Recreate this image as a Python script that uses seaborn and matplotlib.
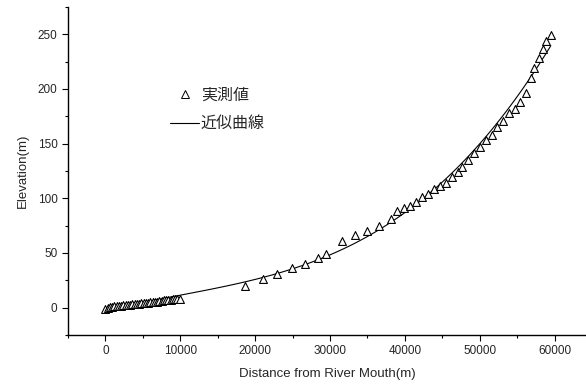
import numpy as np
import pandas as pd
import matplotlib
matplotlib.use('Agg')
import matplotlib.pyplot as plt
from matplotlib.lines import Line2D
from matplotlib.ticker import MultipleLocator
import seaborn as sns

near_x = [0, 300, 600, 900, 1200, 1500, 1800, 2100, 2400, 2700, 3000, 3300,
          3600, 3900, 4200, 4500, 4800, 5100, 5400, 5700, 6000, 6300, 6600,
          6900, 7200, 7500, 7800, 8100, 8400, 8700, 9000, 9300, 9600, 9900]
near_y = [-1, 0, 0.5, 0.5, 1, 1, 1.5, 1.5, 2, 2, 2.5, 2.5,
          3, 3, 3.5, 3.5, 4, 4, 4.5, 4.5, 5, 5, 5.5,
          5.5, 6, 6, 6.5, 6.5, 7, 7, 7.5, 7.5, 8, 8]
far_x = [18700, 21100, 22900, 24900, 26700, 28400, 29500, 31600, 33300, 34900,
         36500, 38100, 39000, 39900, 40700, 41500, 42300, 43100, 43900, 44700,
         45500, 46300, 47100, 47700, 48400, 49200, 50000, 50800, 51600, 52300,
         53100, 53900, 54700, 55400, 56200, 56800, 57300, 57900, 58400, 58900,
         59500]
far_y = [20, 26, 31, 36, 40, 45, 49, 61, 66, 70,
         75, 81, 88, 91, 93, 97, 101, 104, 108, 111,
         114, 119, 124, 129, 135, 141, 147, 153, 158, 165,
         171, 178, 182, 188, 196, 210, 219, 228, 237, 244,
         249]

df = pd.DataFrame({'x': near_x + far_x, 'y': near_y + far_y})

sns.set_style('ticks')
plt.rcParams['font.family'] = ['Liberation Sans', 'DejaVu Sans']

fig, ax = plt.subplots(figsize=(5.86, 3.88), dpi=100)
fig.subplots_adjust(left=0.116, right=1.0, bottom=0.137, top=0.982)

sns.regplot(data=df, x='x', y='y', order=3, ci=None, scatter=False, ax=ax,
            line_kws={'color': 'black', 'lw': 0.8})
sns.scatterplot(data=df, x='x', y='y', marker='^', s=32, facecolors='white',
                edgecolor='black', linewidth=0.8, ax=ax, zorder=3)

ax.set_xlim(-5000, 64200)
ax.set_ylim(-25, 275)
ax.xaxis.set_major_locator(MultipleLocator(10000))
ax.xaxis.set_minor_locator(MultipleLocator(5000))
ax.yaxis.set_major_locator(MultipleLocator(50))
ax.yaxis.set_minor_locator(MultipleLocator(25))
ax.tick_params(which='major', length=4, width=0.8, labelsize=8.5, color='black')
ax.tick_params(which='minor', length=2.5, width=0.8, color='black')
sns.despine(ax=ax)
for s in ['left', 'bottom']:
    ax.spines[s].set_color('black')
    ax.spines[s].set_linewidth(1.0)

ax.set_xlabel('Distance from River Mouth(m)', fontsize=9.5, labelpad=8)
ax.set_ylabel('Elevation(m)', fontsize=9.5, labelpad=6)

handles = [Line2D([], [], marker='^', ls='none', mfc='white', mec='black',
                  ms=6, mew=0.7),
           Line2D([], [], color='black', lw=0.8)]
ax.legend(handles, ['実測値', '近似曲線'], loc='upper left',
          bbox_to_anchor=(0.17, 0.80), frameon=False, handlelength=1.8,
          handletextpad=0.1, labelspacing=0.7,
          prop={'family': ['Noto Sans CJK JP'], 'size': 11.5})

plt.savefig('out.png', dpi=100)
